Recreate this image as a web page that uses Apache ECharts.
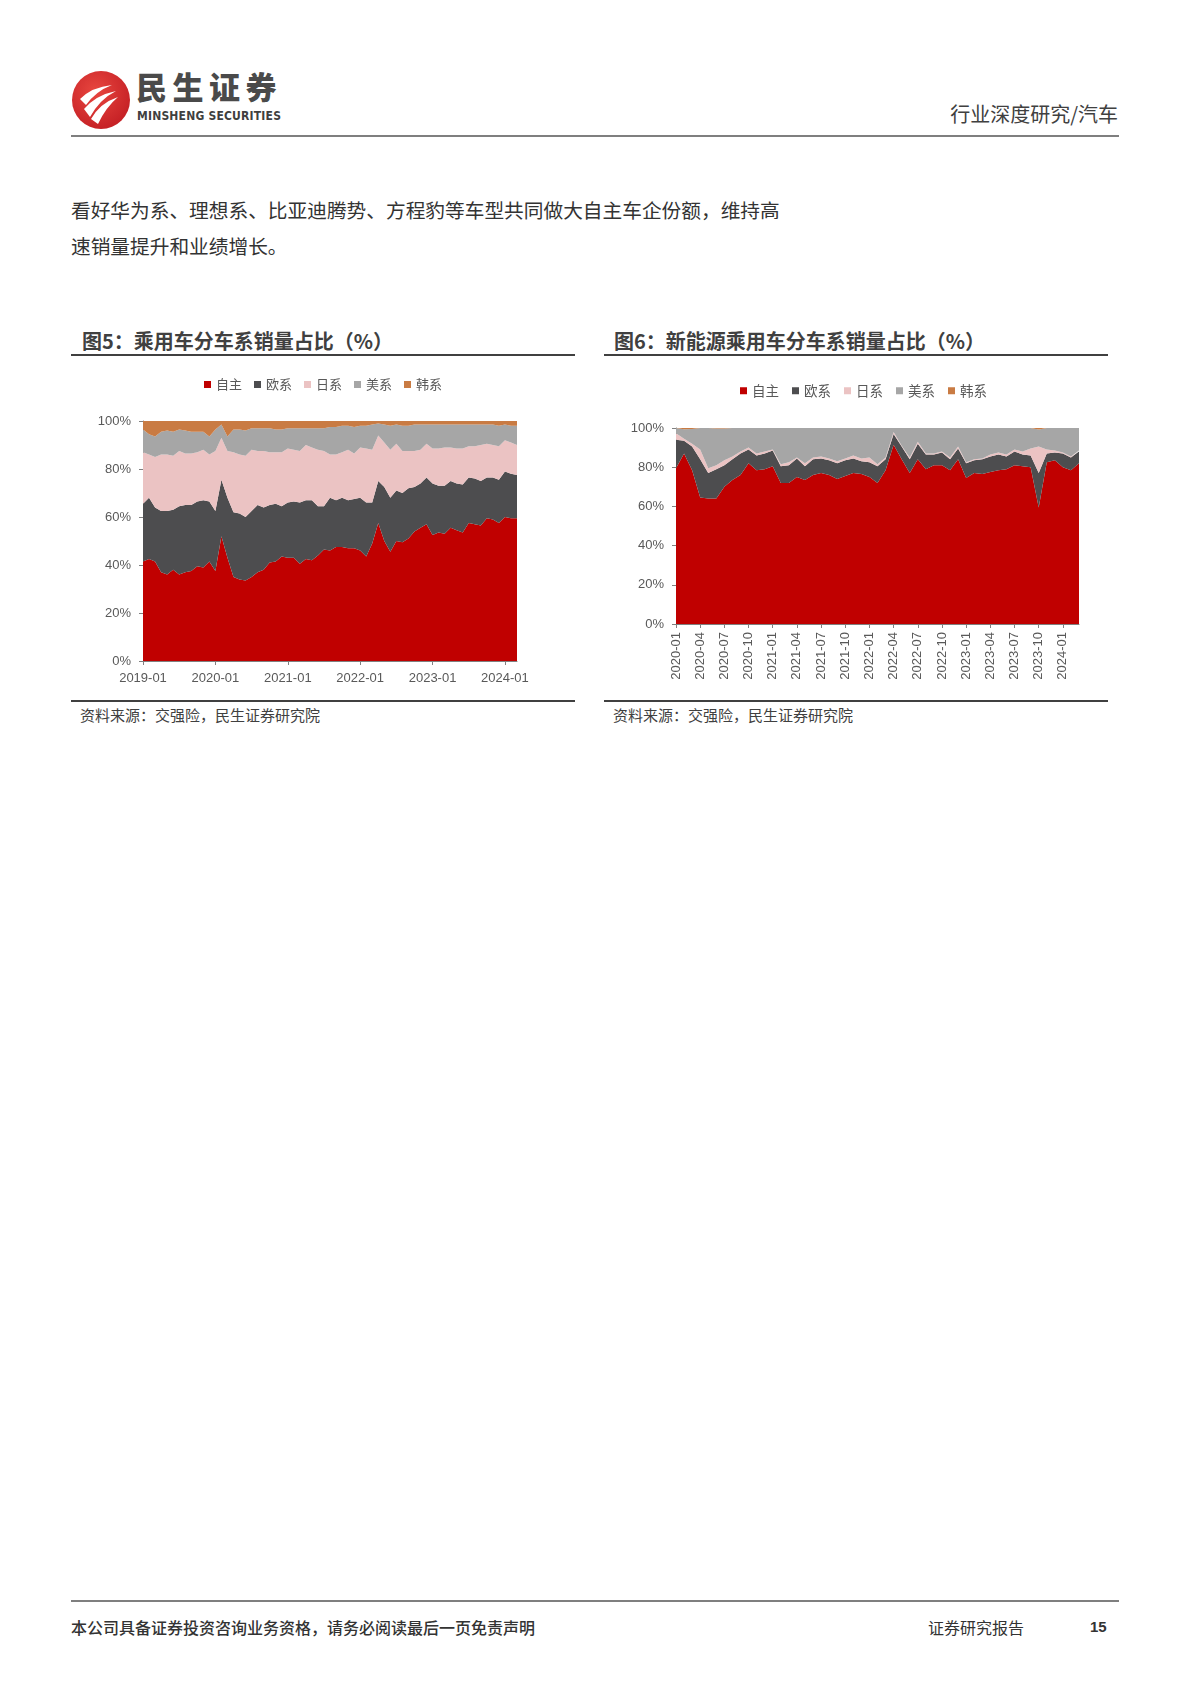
<!DOCTYPE html>
<html>
<head>
<meta charset="utf-8">
<script src="https://cdn.jsdelivr.net/npm/echarts@6/dist/echarts.min.js"></script>
<style>
  html, body { margin: 0; padding: 0; background: #ffffff; }
  body { width: 1190px; height: 1683px; position: relative; overflow: hidden;
         font-family: "Noto Sans CJK SC", "Noto Sans", sans-serif; }
  .abs { position: absolute; white-space: nowrap; }
  .hline { position: absolute; }
</style>
</head>
<body>
<!-- header -->
<svg class="abs" style="left:70px;top:69px" width="62" height="62" viewBox="0 0 62 62">
  <defs>
    <radialGradient id="lg" cx="40%" cy="35%" r="70%">
      <stop offset="0%" stop-color="#e8463f"/>
      <stop offset="100%" stop-color="#c41f24"/>
    </radialGradient>
  </defs>
  <circle cx="31" cy="31" r="29" fill="url(#lg)"/>
  <path d="M10 30 Q22 18 42 16 Q26 22 16 36 Z" fill="#ffffff"/>
  <path d="M14 40 Q26 26 46 22 Q30 30 20 48 Z" fill="#ffffff"/>
  <path d="M21 50 Q30 34 48 28 Q36 38 28 55 Z" fill="#ffffff"/>
</svg>
<div class="abs" style="left:136px;top:66px;font-size:31px;line-height:40px;font-weight:900;color:#4a4a4a;letter-spacing:5.5px;">民生证券</div>
<div class="abs" style="left:137px;top:109px;font-size:12px;line-height:14px;font-weight:bold;color:#3f3f3f;font-family:'Liberation Sans Narrow','DejaVu Sans Condensed','Liberation Sans',sans-serif;letter-spacing:0.2px;">MINSHENG SECURITIES</div>
<div class="abs" style="right:72px;top:99px;font-size:20px;color:#404040;">行业深度研究/汽车</div>
<div class="hline" style="left:71px;top:135px;width:1048px;height:2px;background:#7f7f7f;"></div>

<!-- body text -->
<div class="abs" style="left:71px;top:195px;font-size:19.7px;color:#333333;">看好华为系、理想系、比亚迪腾势、方程豹等车型共同做大自主车企份额，维持高</div>
<div class="abs" style="left:71px;top:231px;font-size:19.7px;color:#333333;">速销量提升和业绩增长。</div>

<!-- chart titles -->
<div class="abs" style="left:82px;top:326px;font-size:20px;font-weight:bold;color:#404040;">图5：乘用车分车系销量占比（%）</div>
<div class="hline" style="left:71px;top:354px;width:504px;height:2px;background:#404040;"></div>
<div class="abs" style="left:614px;top:326px;font-size:20px;font-weight:bold;color:#404040;">图6：新能源乘用车分车系销量占比（%）</div>
<div class="hline" style="left:604px;top:354px;width:504px;height:2px;background:#404040;"></div>

<div id="c1" class="abs" style="left:71px;top:365px;width:504px;height:330px;"></div>
<div id="c2" class="abs" style="left:604px;top:365px;width:504px;height:335px;"></div>

<div class="hline" style="left:71px;top:700px;width:504px;height:1.5px;background:#404040;"></div>
<div class="abs" style="left:80px;top:704px;font-size:15px;color:#404040;">资料来源：交强险，民生证券研究院</div>
<div class="hline" style="left:604px;top:700px;width:504px;height:1.5px;background:#404040;"></div>
<div class="abs" style="left:613px;top:704px;font-size:15px;color:#404040;">资料来源：交强险，民生证券研究院</div>

<!-- footer -->
<div class="hline" style="left:71px;top:1600px;width:1048px;height:2px;background:#7f7f7f;"></div>
<div class="abs" style="left:71px;top:1615px;font-size:16px;font-weight:500;color:#333333;">本公司具备证券投资咨询业务资格，请务必阅读最后一页免责声明</div>
<div class="abs" style="left:928px;top:1615px;font-size:16px;color:#333333;">证券研究报告</div>
<div class="abs" style="left:1090px;top:1618px;font-size:15px;font-weight:bold;color:#333333;font-family:'Liberation Sans',sans-serif;">15</div>

<script>
// ---------- Chart 5 data (乘用车, 2019-01 .. 2024-03) ----------
const months1 = [
 '2019-01','2019-02','2019-03','2019-04','2019-05','2019-06','2019-07','2019-08','2019-09','2019-10','2019-11','2019-12',
 '2020-01','2020-02','2020-03','2020-04','2020-05','2020-06','2020-07','2020-08','2020-09','2020-10','2020-11','2020-12',
 '2021-01','2021-02','2021-03','2021-04','2021-05','2021-06','2021-07','2021-08','2021-09','2021-10','2021-11','2021-12',
 '2022-01','2022-02','2022-03','2022-04','2022-05','2022-06','2022-07','2022-08','2022-09','2022-10','2022-11','2022-12',
 '2023-01','2023-02','2023-03','2023-04','2023-05','2023-06','2023-07','2023-08','2023-09','2023-10','2023-11','2023-12',
 '2024-01','2024-02','2024-03'];
const own1 = [41.5,42.5,41.5,37,36,38,36,37,37.5,39.5,39,41.5,
 37.5,52,43,35,34,33.5,35,37,38,41,41.5,43.5,
 43,43,40.5,42.5,42,44,46.5,46,47.5,47.5,47,47,
 46,43.5,49,57.5,50,45.5,50,49.5,51,54,55.5,57,
 52.5,53.5,53,55.5,54.5,53.5,57.5,57,56.5,59.5,59,57.5,
 60,59.5,59.5];
const eu1 = [24,25.5,22.5,25.5,26.5,25,28.5,28,27.5,27,28,25,
 25,23.5,25,27,27.5,26.5,27.5,28,26,24,24,21,
 23,23.5,25.5,24.5,25,20.5,18,22,19.5,20.5,20,20.5,
 22,22.5,17,17.5,22.5,22.5,21,20.5,21,18.5,18.5,19.5,
 21.5,19.5,20,19.5,19.5,20,19,19,18.5,17,17.5,18,
 19,18.5,18];
const jp1 = [21.5,18,21,23.5,23.5,22.5,23,21.5,21.5,20.5,21,19.5,
 25,17.5,19.5,25,24.5,25.5,25.5,22.5,23.5,22,21.5,22.5,
 22.5,21.5,21.5,23,22,23.5,23,18,19,19,21,19,
 21,22.5,22,19,18.5,20,19.5,17.5,15.5,15,14,14,
 14.5,15.5,16,14,14.5,15,13,13.5,15,14,13.5,14,
 13,13,12.5];
const us1 = [9.5,8.5,8.5,9.5,10,10,9,9.5,9,8.5,7.5,7.5,
 9,5.5,6,9.5,10.5,10.5,9,9.5,9.5,10,9.5,9.5,
 8.5,9,9.5,7,8,9,9.5,11.5,11.5,11,10,11,
 9,9.5,10.5,5,7.5,10,8,10.5,10.5,11,10.5,8,
 10,10,9.5,9.5,10,10,9,9,8.5,8,8.5,8.5,
 6.5,7,8];
const kr1 = [3.5,5.5,6.5,4.5,4,4.5,3.5,4,4.5,4.5,4.5,6.5,
 3.5,1.5,6.5,3.5,3.5,4,3,3,3,3,3.5,3.5,
 3,3,3,3,3,3,3,2.5,2.5,2,2,2.5,
 2,2,1.5,1,1.5,2,1.5,2,2,1.5,1.5,1.5,
 1.5,1.5,1.5,1.5,1.5,1.5,1.5,1.5,1.5,1.5,1.5,2,
 1.5,2,2];

// ---------- Chart 6 data (新能源乘用车, 2020-01 .. 2024-03) ----------
const months2 = months1.slice(12);
const own2 = [79.5,87,78.5,64.5,64,64,70,73.5,76,82,78.5,79,
 80.5,72,72,75,73.5,76,77,76,74,75.5,77,76.5,
 75,72,78.5,91.5,84,77,84,79,81,81,78.5,84,
 74.5,77,76.5,77.5,78.5,79,81,80.5,80,59.5,82.5,83.5,
 80,78.5,82];
const eu2 = [14.5,6.5,12,19.5,13,15,11,10.5,11,7,7.5,8,
 8,8.5,9,9.5,7,8,7.5,7.5,8,8,7.5,6.5,
 7.5,8.5,5.5,5.5,6.5,7,8,7.5,5.5,6.5,5.5,5.5,
 7.5,6.5,7.5,8,8,6.5,7,6,6,17.5,4.5,4,
 7,6.5,6];
const jp2 = [3.3,1,1.5,5,2.5,2,2.5,1.5,1,1,1,1,
 0.5,1,1.5,0.5,1.5,1,1,1,1,1,1.5,1.5,
 2.5,1,1,1,0.5,1,1,0.5,0.5,0.5,1,1,
 0.5,0.5,0.5,1,1,1,1,1.5,3.5,13.5,2,1,
 0.5,0.5,0.5];
const us2 = [2.7,4.8,7.5,11,20.5,18.8,16.2,14.5,12,10,13,12,
 11,18.5,17.5,15,18,15,14.5,15.5,17,15.5,14,15.5,
 15,18.5,15,2,9,15,7,13,13,12,15,9.5,
 17.5,16,15.5,13.5,12.5,13.5,11,12,10.5,8.7,11,11.5,
 12.5,14.5,11.5];
const kr2 = [0,0.7,0.5,0,0,0.2,0.3,0,0,0,0,0,
 0,0,0,0,0,0,0,0,0,0,0,0,
 0,0,0,0,0,0,0,0,0,0,0,0,
 0,0,0,0,0,0,0,0,0,0.8,0,0,
 0,0,0];

const seriesNames = ['自主','欧系','日系','美系','韩系'];
const colors = ['#C00000','#4D4D4F','#EBC3C3','#A6A6A6','#C97B43'];

const axisFont = "'Liberation Sans', Arial, 'Noto Sans CJK SC', sans-serif";

function buildSeries(arrs) {
  return arrs.map((d, i) => ({
    name: seriesNames[i],
    type: 'line',
    stack: 'total',
    data: d,
    symbol: 'none',
    showSymbol: false,
    lineStyle: { width: 0 },
    areaStyle: { color: colors[i], opacity: 1 },
    itemStyle: { color: colors[i] },
    emphasis: { disabled: true },
    animation: false
  }));
}

function legendCfg(top, left, fs, gap, iw) {
  return {
    top: top, left: left,
    itemWidth: iw, itemHeight: iw, itemGap: gap,
    icon: 'rect',
    textStyle: { fontSize: fs, color: '#595959', fontFamily: "'Noto Sans CJK SC', sans-serif" },
    data: seriesNames
  };
}

function yAxisCfg() {
  return {
    type: 'value', min: 0, max: 100, interval: 20,
    axisLine: { show: true, lineStyle: { color: '#808080', width: 1 } },
    axisTick: { show: true, length: 4, lineStyle: { color: '#808080' } },
    splitLine: { show: false },
    axisLabel: { formatter: v => v + '%', color: '#595959', fontSize: 13, margin: 12, fontFamily: axisFont }
  };
}

const c1 = echarts.init(document.getElementById('c1'), null, { renderer: 'canvas' });
c1.setOption({
  animation: false,
  color: colors,
  legend: legendCfg(8, 'center', 13, 12, 7),
  grid: { left: 72, right: 58, top: 56, bottom: 34, containLabel: false },
  xAxis: {
    type: 'category', data: months1, boundaryGap: false,
    axisLine: { lineStyle: { color: '#808080', width: 1 } },
    axisTick: { show: true, interval: 11, length: 4, lineStyle: { color: '#808080' } },
    axisLabel: { interval: 11, color: '#595959', fontSize: 13, margin: 11, fontFamily: axisFont }
  },
  yAxis: yAxisCfg(),
  series: buildSeries([own1, eu1, jp1, us1, kr1])
});

const c2 = echarts.init(document.getElementById('c2'), null, { renderer: 'canvas' });
c2.setOption({
  animation: false,
  color: colors,
  legend: legendCfg(14, 131, 13.5, 13, 7),
  grid: { left: 72, right: 29, top: 63, bottom: 76, containLabel: false },
  xAxis: {
    type: 'category', data: months2, boundaryGap: false,
    axisLine: { lineStyle: { color: '#808080', width: 1 } },
    axisTick: { show: true, interval: 2, length: 4, lineStyle: { color: '#808080' } },
    axisLabel: { interval: 2, rotate: 90, color: '#595959', fontSize: 13, margin: 8, fontFamily: axisFont }
  },
  yAxis: yAxisCfg(),
  series: buildSeries([own2, eu2, jp2, us2, kr2])
});
</script>
</body>
</html>
